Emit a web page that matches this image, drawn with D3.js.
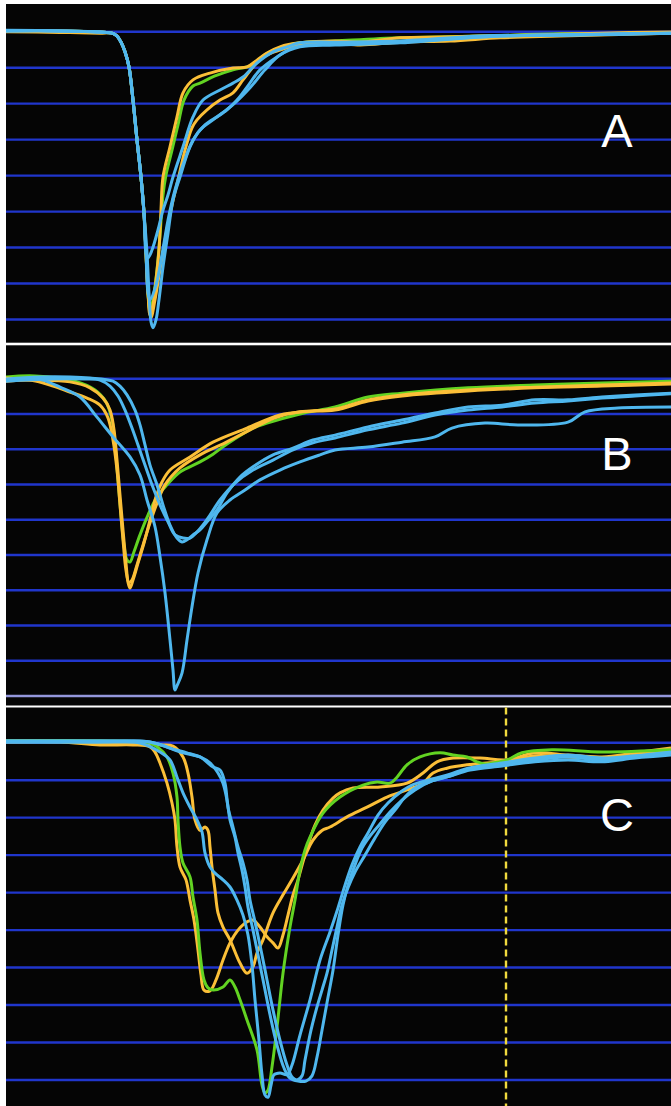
<!DOCTYPE html>
<meta charset="utf-8">
<style>
body {
  margin: 0;
  background: #fff;
}
svg {
  display: block;
}
.label {
  font-family: "Liberation Sans", Arial, Helvetica, sans-serif;
  font-size: 47px;
  fill: #fff;
}
</style>
<body>
<script src="https://cdn.jsdelivr.net/npm/d3@7"></script>
<script>

var width = 671,
    height = 1106;

// time axis (same for all three panels)
var timeDomain = [0, 133];

// grid levels (% of baseline) per panel
var gridA = [100, 90, 80, 70, 60, 50, 40, 30, 20],
    gridB = [100, 90, 80, 70, 60, 50, 40, 30, 20, 10],
    gridC = [100, 90, 80, 70, 60, 50, 40, 30, 20, 10];

// marker drawn in panel C
var markerC = 100;

// ---- panel A traces [time, %]
var aYellow1 = [[0,100.2],[10.8,100.2],[18.8,99.9],[21.2,99.6],[22.2,98.8],[23.0,97.1],[23.8,94.4],[24.6,90.2],[25.4,81.0],[26.2,69.9],[27.0,59.6],[27.6,49.6],[28.0,38.5],[28.4,27.4],[28.8,21.3],[29.4,24.1],[30.0,31.0],[30.6,39.4],[31.0,50.4],[31.4,59.6],[32.8,68.0],[34.2,76.3],[35.4,83.0],[37.4,86.6],[40.8,88.5],[45.4,89.9],[48.2,90.2],[50.2,92.1],[52.2,94.1],[54.8,95.8],[58.8,96.9],[65.8,97.4],[70.8,97.1],[78.8,98.3],[86.8,98.5],[94.8,98.8],[106.8,99.1],[118.8,99.6],[133,99.9]];
var aYellow2 = [[0,100.0],[10.8,99.8],[18.8,99.6],[21.2,99.6],[22.2,98.8],[23.0,97.1],[23.8,94.4],[24.6,90.2],[25.4,81.0],[26.2,69.9],[27.0,59.6],[27.6,49.6],[28.0,38.5],[28.4,27.4],[29.0,20.5],[29.8,25.5],[30.8,33.8],[32.0,43.5],[33.2,51.8],[34.4,58.8],[35.8,67.1],[37.2,73.3],[38.2,75.5],[40.2,78.3],[42.8,81.0],[45.4,83.0],[47.4,86.6],[49.4,90.2],[51.4,93.0],[54.8,94.9],[58.8,96.3],[65.8,96.9],[70.8,96.3],[78.8,97.1],[88.8,97.4],[98.8,98.3],[110.8,98.8],[133,99.6]];
var aGreen = [[0,100.2],[10.8,100.2],[18.8,99.9],[21.2,99.6],[22.2,98.8],[23.0,97.1],[23.8,94.4],[24.6,90.2],[25.4,81.0],[26.2,69.9],[27.0,59.6],[27.6,49.6],[28.0,38.5],[28.4,27.4],[28.8,22.7],[29.4,25.5],[30.2,33.8],[30.8,43.5],[31.4,54.6],[32.0,60.2],[33.2,67.1],[34.4,74.1],[35.6,81.0],[37.4,84.9],[38.8,85.7],[41.8,87.7],[45.4,89.4],[48.8,90.5],[51.2,93.0],[52.8,94.4],[55.8,96.0],[58.8,96.9],[65.8,97.4],[78.8,98.3],[94.8,98.8],[110.8,99.4],[133,99.6]];
var aBlue1 = [[0,100.4],[10.8,100.2],[18.8,99.9],[21.2,99.6],[22.2,98.8],[23.0,97.1],[23.8,94.4],[24.6,90.2],[25.4,81.0],[26.2,69.9],[27.0,59.6],[27.6,49.6],[28.2,38.5],[28.6,27.4],[29.0,19.4],[29.4,17.7],[30.0,19.9],[30.6,25.5],[31.4,34.6],[32.4,44.0],[33.4,53.2],[34.8,59.6],[36.8,68.0],[38.8,72.7],[41.4,75.5],[44.2,78.3],[46.2,81.0],[48.2,84.6],[50.8,89.4],[54.2,93.0],[57.4,95.5],[60.8,96.3],[65.8,96.6],[72.8,96.9],[78.8,97.1],[84.8,97.7],[94.8,98.5],[106.8,99.1],[122.8,99.4],[133,99.6]];
var aBlue2 = [[0,100.2],[10.8,100.2],[18.8,99.9],[21.2,99.6],[22.2,98.8],[23.0,97.1],[23.8,94.4],[24.6,90.2],[25.4,81.0],[26.2,69.9],[27.0,59.6],[27.6,49.6],[28.0,38.5],[28.4,37.1],[29.2,39.3],[30.4,44.9],[31.4,50.4],[32.4,54.6],[33.4,59.6],[35.4,68.0],[37.4,76.3],[39.4,81.0],[42.8,83.8],[45.4,85.7],[47.4,87.4],[50.2,91.3],[53.4,94.4],[56.2,95.8],[58.8,96.9],[65.8,97.1],[78.8,97.4],[94.8,98.8],[110.8,99.1],[133,99.6]];
var aBlue3 = [[0,100.2],[10.8,100.2],[18.8,99.9],[21.2,99.6],[22.2,98.8],[23.0,97.1],[23.8,94.4],[24.6,90.2],[25.4,81.0],[26.2,69.9],[27.0,59.6],[27.6,49.6],[28.0,38.5],[28.4,27.4],[28.8,25.5],[30.0,29.6],[31.2,38.0],[32.4,47.6],[33.8,56.0],[35.4,63.0],[37.4,69.9],[39.8,74.1],[42.8,76.9],[45.8,80.2],[48.8,84.4],[51.8,89.4],[54.8,93.5],[58.8,95.8],[65.8,96.3],[78.8,96.9],[86.8,97.7],[98.8,98.8],[114.8,99.1],[133,99.6]];

// ---- panel B traces
var bYellow1 = [[0,99.3],[6.8,99.6],[12.8,99.1],[16.8,97.4],[19.4,94.5],[20.8,91.1],[21.6,85.5],[22.2,76.9],[22.8,67.0],[23.4,57.1],[24.0,47.7],[24.4,42.3],[24.8,40.6],[25.4,42.9],[26.4,47.7],[27.6,53.4],[28.8,59.9],[30.0,66.5],[31.2,70.7],[32.8,74.1],[36.8,77.8],[41.4,82.0],[48.2,86.0],[54.8,89.7],[60.8,90.8],[65.8,91.4],[72.4,94.0],[79.2,95.4],[92.4,96.8],[105.8,97.6],[119.2,98.2],[133,98.8]];
var bYellow2 = [[0,100.2],[4.8,99.6],[8.8,98.2],[12.2,96.5],[16.2,94.5],[18.8,92.5],[20.4,88.9],[21.4,82.6],[22.2,74.1],[22.8,64.2],[23.4,54.3],[24.0,45.7],[24.6,42.1],[25.2,42.9],[26.2,47.2],[27.4,52.8],[28.8,59.1],[30.2,64.7],[31.8,69.9],[34.8,74.7],[38.8,78.4],[43.8,81.8],[48.8,85.5],[53.8,88.9],[58.8,90.6],[65.8,91.1],[72.4,93.7],[79.2,95.1],[92.4,96.5],[105.8,97.4],[119.2,97.9],[133,98.5]];
var bGreen = [[0,100.5],[5.8,100.8],[13.8,99.3],[17.8,96.8],[20.0,93.4],[21.2,88.3],[21.8,81.2],[22.4,71.3],[23.0,61.3],[23.6,52.8],[24.2,48.6],[24.8,48.0],[25.6,50.9],[26.8,55.7],[28.4,61.3],[30.2,66.5],[32.2,69.9],[34.8,73.5],[38.8,76.4],[41.4,78.6],[44.2,81.5],[49.4,86.0],[52.2,87.4],[58.8,90.0],[65.8,92.0],[72.4,94.8],[79.2,95.9],[92.4,97.4],[105.8,98.2],[119.2,98.8],[133,99.3]];
var bBlue1 = [[0,99.6],[4.8,100.2],[7.4,99.6],[10.8,97.6],[14.8,94.8],[18.2,89.1],[21.4,83.5],[24.8,77.8],[26.8,72.7],[28.2,65.6],[29.8,58.0],[30.8,49.5],[31.8,39.3],[32.8,25.9],[33.4,17.4],[33.8,11.7],[34.2,12.9],[35.2,16.5],[36.2,25.9],[37.2,35.3],[38.4,44.9],[40.2,54.3],[42.2,61.9],[44.8,65.6],[47.8,68.4],[50.8,71.3],[54.8,74.1],[58.8,76.4],[62.8,78.4],[65.8,79.8],[72.4,80.6],[79.2,82.0],[85.8,83.5],[89.2,86.0],[95.8,87.4],[102.4,86.9],[112.4,87.7],[115.8,90.6],[122.4,91.7],[133,92.0]];
var bBlue2 = [[0,99.9],[6.8,100.5],[12.8,100.5],[16.8,100.2],[21.4,99.3],[22.8,97.9],[24.2,95.4],[25.8,91.1],[26.8,86.9],[27.8,81.2],[28.8,75.5],[30.2,69.9],[31.4,64.2],[32.8,58.5],[34.2,54.8],[35.2,53.7],[36.2,54.3],[37.4,55.7],[38.8,57.1],[40.2,59.4],[42.2,62.8],[44.2,67.6],[46.8,72.1],[49.4,75.0],[53.4,78.4],[57.4,80.3],[61.4,82.6],[65.8,84.0],[72.4,86.3],[79.2,88.3],[85.8,90.3],[92.4,92.0],[99.2,92.5],[105.8,94.0],[112.4,94.0],[119.2,94.8],[125.8,95.4],[133,95.9]];
var bBlue3 = [[0,99.3],[8.8,99.9],[15.8,99.9],[18.8,99.6],[20.8,97.9],[22.4,95.1],[23.8,91.1],[25.2,86.0],[26.4,81.2],[27.8,75.5],[29.2,69.9],[30.8,64.2],[32.4,59.4],[33.8,55.7],[35.4,54.8],[36.8,54.8],[38.2,56.5],[39.4,58.5],[40.8,61.3],[42.8,65.6],[45.8,70.4],[49.4,74.1],[53.4,76.9],[57.4,79.8],[61.4,81.8],[65.8,83.2],[72.4,85.5],[79.2,87.4],[85.8,89.7],[92.4,91.1],[99.2,92.0],[105.8,93.1],[112.4,93.7],[119.2,94.5],[125.8,95.1],[133,95.7]];

// ---- panel C traces
var cYellow1 = [[0,100.2],[10.8,100.2],[18.8,99.4],[25.4,99.4],[28.8,98.9],[29.8,97.5],[30.8,94.6],[32.2,89.2],[33.2,83.9],[33.8,79.4],[34.2,72.2],[34.8,66.8],[36.0,63.4],[36.8,58.0],[37.6,52.7],[38.4,44.7],[39.0,38.0],[39.6,34.0],[40.8,33.8],[42.0,36.7],[43.4,42.0],[44.8,46.6],[46.4,50.0],[48.2,52.2],[49.4,52.7],[50.8,50.8],[52.2,48.2],[53.4,46.6],[54.4,45.2],[55.4,48.7],[56.4,54.0],[57.4,59.4],[58.4,63.4],[59.4,68.2],[60.4,72.7],[61.8,78.0],[63.4,82.0],[65.4,85.2],[66.8,86.6],[69.4,87.9],[74.8,88.2],[80.2,89.2],[83.4,91.9],[86.2,94.9],[89.4,95.9],[94.8,95.9],[100.2,95.4],[105.8,97.3],[112.4,96.7],[119.2,96.2],[125.8,97.3],[133,98.6]];
var cYellow2 = [[0,100.5],[10.8,100.5],[18.8,99.9],[26.8,99.9],[30.8,99.4],[33.4,99.1],[35.4,96.2],[36.4,91.9],[37.2,85.5],[37.8,79.4],[38.8,76.6],[39.8,77.5],[40.4,76.6],[40.8,72.2],[41.2,66.8],[41.8,60.7],[42.4,54.6],[43.4,50.8],[44.8,47.4],[46.8,41.2],[48.2,38.5],[49.4,40.2],[50.2,43.9],[51.4,47.4],[53.4,54.6],[55.4,59.4],[57.4,63.9],[59.4,68.7],[61.4,74.0],[63.2,76.6],[64.8,77.5],[68.2,80.2],[72.2,82.8],[76.2,85.5],[80.2,87.4],[83.4,89.2],[85.4,91.9],[88.2,93.2],[92.2,94.1],[96.2,94.6],[100.2,94.9],[105.8,96.5],[112.4,96.2],[119.2,95.9],[125.8,96.7],[133,98.1]];
var cGreen = [[0,100.5],[18.8,100.5],[28.8,99.9],[30.2,98.9],[32.2,96.2],[33.4,91.9],[34.2,85.5],[34.4,79.4],[34.8,72.2],[35.4,67.9],[36.8,64.2],[37.4,58.8],[38.2,52.7],[38.8,43.9],[39.6,36.7],[40.4,34.6],[41.4,34.0],[43.4,34.8],[44.8,36.7],[45.8,34.8],[46.8,31.4],[48.2,26.0],[50.2,18.0],[51.2,8.6],[51.8,6.5],[52.4,7.3],[53.2,13.5],[54.2,24.1],[55.4,38.5],[56.8,50.8],[57.8,58.0],[58.8,66.0],[59.8,71.4],[60.8,74.8],[63.4,81.2],[66.8,85.5],[71.4,88.7],[74.2,89.5],[76.8,89.2],[78.2,90.8],[80.2,94.1],[82.8,96.2],[86.8,97.3],[89.4,96.7],[92.2,96.2],[94.2,94.9],[95.8,94.3],[97.4,94.6],[100.2,95.4],[103.2,97.3],[109.2,98.1],[119.2,97.5],[133,98.1]];
var cBlue1 = [[0,100.2],[14.8,100.2],[22.8,100.2],[26.8,99.9],[30.8,97.5],[32.8,95.4],[34.2,90.8],[35.4,86.6],[36.8,82.8],[38.2,79.4],[39.2,76.2],[39.8,70.6],[40.8,66.8],[41.8,65.2],[43.4,63.4],[44.8,61.5],[46.2,58.0],[47.4,54.0],[48.4,48.7],[49.2,40.7],[49.8,31.4],[50.6,20.6],[51.2,11.4],[51.8,6.0],[52.4,5.4],[53.0,8.6],[53.6,11.4],[54.8,11.9],[56.2,11.4],[57.2,14.0],[58.8,22.0],[60.8,31.4],[62.8,42.0],[64.8,49.5],[66.4,55.9],[67.8,62.0],[69.2,67.4],[70.8,72.2],[72.4,75.9],[74.4,80.7],[76.4,83.9],[79.2,87.1],[81.2,88.7],[85.2,90.3],[88.8,91.6],[92.4,93.2],[99.2,94.6],[105.8,95.9],[112.4,96.7],[119.2,95.9],[125.8,96.5],[133,97.5]];
var cBlue2 = [[0,100.5],[18.8,100.5],[28.8,100.2],[33.4,98.3],[36.2,97.3],[38.8,96.2],[40.8,94.6],[42.4,91.9],[43.4,89.2],[44.2,84.7],[44.8,79.4],[45.8,74.8],[46.4,70.6],[47.2,66.0],[47.8,61.5],[48.4,56.1],[49.4,50.0],[50.4,43.4],[51.6,35.4],[52.8,27.4],[54.2,19.3],[55.6,13.2],[56.8,10.5],[58.4,9.7],[60.0,9.7],[61.2,11.1],[62.2,16.1],[63.2,23.3],[64.2,30.6],[65.4,39.3],[66.4,48.7],[67.4,56.7],[68.4,62.0],[69.8,67.4],[71.2,71.9],[72.8,75.1],[74.8,78.3],[76.8,81.5],[79.2,84.7],[81.8,87.4],[85.2,89.8],[88.8,91.1],[92.8,92.7],[99.2,93.8],[105.8,94.9],[112.4,95.4],[119.2,94.9],[125.8,95.9],[133,96.7]];
var cBlue3 = [[0,100.2],[18.8,100.2],[28.8,100.2],[35.4,97.3],[38.8,96.2],[41.4,93.5],[42.8,92.7],[43.8,89.2],[44.4,82.8],[45.4,77.5],[46.4,72.2],[47.4,67.9],[48.2,63.4],[48.8,58.0],[49.8,52.2],[51.0,44.7],[52.2,36.7],[53.4,28.7],[54.8,20.6],[56.2,14.0],[57.2,10.8],[58.2,10.0],[59.2,11.1],[59.8,15.3],[61.0,23.3],[62.2,29.5],[63.2,34.0],[64.2,38.5],[65.2,44.7],[66.2,50.8],[67.2,56.7],[68.4,61.3],[69.8,65.5],[71.8,70.0],[73.8,74.6],[75.8,78.8],[77.8,82.0],[79.8,85.5],[81.8,87.9],[85.2,89.8],[88.8,91.1],[92.4,93.0],[99.2,94.1],[105.8,95.4],[112.4,96.2],[119.2,95.4],[125.8,96.2],[133,97.3]];

var colors = {
  green: "#62d322",
  yellow: "#fbbf38",
  blue: "#4fb7ee"
};

// layout of the three stacked panels
var panels = [
  { label: "A", top: 4, bottom: 342.7, gridTop: 31.7, gridBottom: 319.5, grid: gridA, labelY: 143,
    series: [["green", aGreen], ["yellow", aYellow2], ["yellow", aYellow1], ["blue", aBlue3], ["blue", aBlue2], ["blue", aBlue1]] },
  { label: "B", top: 345.3, bottom: 705.5, gridTop: 378.7, gridBottom: 696, grid: gridB, labelY: 124.7,
    series: [["green", bGreen], ["yellow", bYellow2], ["yellow", bYellow1], ["blue", bBlue3], ["blue", bBlue2], ["blue", bBlue1]] },
  { label: "C", top: 707.5, bottom: 1106, gridTop: 742.7, gridBottom: 1080, grid: gridC, labelY: 123.5, marker: markerC,
    series: [["yellow", cYellow2], ["yellow", cYellow1], ["green", cGreen], ["blue", cBlue3], ["blue", cBlue2], ["blue", cBlue1]] }
];

var svg = d3.select("body").append("svg")
    .attr("width", width)
    .attr("height", height);

var x = d3.scaleLinear()
    .domain(timeDomain)
    .range([6, width]);

panels.forEach(function(p) {

  var g = svg.append("g");

  var y = d3.scaleLinear()
      .domain([d3.max(p.grid), d3.min(p.grid)])
      .range([p.gridTop, p.gridBottom]);

  g.append("rect")
    .attr("x", x.range()[0])
    .attr("y", p.top)
    .attr("width", x.range()[1] - x.range()[0])
    .attr("height", p.bottom - p.top)
    .style("fill", "#050505");

  // horizontal grid
  g.selectAll(".grid")
    .data(p.grid)
    .enter().append("line")
      .attr("class", "grid")
      .attr("x1", x.range()[0])
      .attr("x2", x.range()[1])
      .attr("y1", function(d) { return y(d); })
      .attr("y2", function(d) { return y(d); })
      .style("stroke", function(d, i) {
        // bottom line of B is a pale axis line
        return (p.label === "B" && i === p.grid.length - 1) ? "#9497dc" : "#2036cc";
      })
      .style("stroke-width", 2.4);

  if (p.marker != null) {
    g.append("line")
      .attr("x1", x(p.marker))
      .attr("x2", x(p.marker))
      .attr("y1", p.top)
      .attr("y2", p.bottom)
      .style("stroke", "#f1da3e")
      .style("stroke-width", 2.4)
      .style("stroke-dasharray", "7,4");
  }

  var line = d3.line()
      .x(function(d) { return x(d[0]); })
      .y(function(d) { return y(d[1]); })
      .curve(d3.curveCatmullRom.alpha(0.5));

  g.selectAll(".trace")
    .data(p.series)
    .enter().append("path")
      .attr("class", "trace")
      .attr("d", function(d) { return line(d[1]); })
      .style("fill", "none")
      .style("stroke", function(d) { return colors[d[0]]; })
      .style("stroke-width", 3)
      .style("stroke-linejoin", "round");

  g.append("text")
    .attr("class", "label")
    .attr("text-anchor", "middle")
    .attr("x", width - 54)
    .attr("y", p.top + p.labelY)
    .text(p.label);
});

</script>
